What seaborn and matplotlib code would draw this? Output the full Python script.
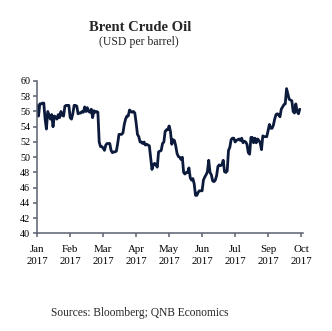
import numpy as np
import pandas as pd
import matplotlib
matplotlib.use("Agg")
import matplotlib.pyplot as plt
import seaborn as sns

# Brent price, USD per barrel (trading-day series)
prices = [
    56.8, 55.4, 57.0, 57.0, 57.1, 57.1, 55.0, 53.7, 56.0, 55.5,
    55.0, 55.6, 54.0, 55.4, 55.3, 55.0, 55.6, 55.2, 56.0, 55.5,
    55.4, 56.7, 56.8, 56.8, 56.8, 55.2, 55.0, 55.7, 56.8, 56.8,
    56.7, 55.7, 55.8, 55.8, 56.0, 55.9, 56.6, 56.0, 56.5, 56.0,
    55.9, 56.3, 55.2, 56.1, 55.9, 56.0, 55.9, 52.0, 51.4, 51.4,
    51.2, 50.9, 51.6, 51.8, 51.8, 51.8, 50.9, 50.6, 50.7, 50.7,
    50.8, 51.8, 53.0, 53.0, 53.0, 53.2, 54.3, 55.0, 55.4, 55.4,
    56.2, 56.0, 55.9, 56.0, 55.8, 54.5, 53.0, 52.7, 52.0, 52.0,
    51.8, 52.0, 51.6, 51.7, 51.6, 51.5, 50.0, 48.4, 49.0, 49.2,
    49.0, 48.7, 50.7, 50.8, 50.9, 51.8, 52.0, 53.4, 53.6, 53.6,
    54.1, 53.4, 51.7, 52.3, 52.2, 51.5, 50.5, 50.1, 50.0, 49.7,
    50.0, 48.0, 47.8, 48.0, 48.0, 48.6, 47.3, 47.0, 47.2, 46.5,
    45.0, 45.0, 45.4, 45.6, 45.6, 45.6, 47.0, 47.4, 47.7, 48.1,
    49.6, 48.0, 47.7, 46.9, 46.8, 47.0, 47.6, 48.8, 49.0, 48.9,
    49.0, 49.6, 48.1, 48.0, 48.2, 50.9, 51.3, 52.3, 52.5, 52.5,
    52.0, 52.2, 52.3, 52.4, 52.2, 52.5, 51.9, 52.1, 52.0, 51.7,
    50.6, 50.4, 52.6, 52.6, 51.9, 52.5, 51.9, 52.4, 52.2, 51.9,
    51.0, 52.8, 52.7, 52.7, 52.7, 53.5, 54.3, 53.8, 53.8, 54.2,
    55.0, 55.6, 55.7, 55.6, 55.3, 56.3, 56.6, 56.9, 57.0, 59.0,
    58.3, 57.6, 57.5, 57.4, 56.0, 55.8, 57.0, 56.0, 55.7, 56.3,
]
tick_labels = ["Jan\n2017", "Feb\n2017", "Mar\n2017", "Apr\n2017", "May\n2017",
               "Jun\n2017", "Jul\n2017", "Sep\n2017", "Oct\n2017"]
y_ticks = [40, 42, 44, 46, 48, 50, 52, 54, 56, 58, 60]

df = pd.DataFrame({"day": np.arange(len(prices)), "price": prices})

sns.set_style("ticks")
plt.rcParams["font.family"] = ["Liberation Serif", "DejaVu Serif"]

fig = plt.figure(figsize=(3.32, 3.31), dpi=100)
ax = fig.add_axes([0.112, 0.2946, 0.802, 0.4607])

sns.lineplot(data=df, x="day", y="price", ax=ax, color="#0c1a3c", linewidth=2.0)

ax.set_xlim(0, 201.8)
ax.set_ylim(40, 60)
ax.set_yticks(y_ticks)
ax.set_yticklabels([str(v) for v in y_ticks], fontsize=7.3)
ax.set_xticks(np.arange(0, 201, 25))
ax.set_xticklabels(tick_labels, fontsize=7.8, linespacing=1.5)
ax.set_xlabel("")
ax.set_ylabel("")

for s in ["top", "right"]:
    ax.spines[s].set_visible(False)
for s in ["left", "bottom"]:
    ax.spines[s].set_color("#5a6270")
    ax.spines[s].set_linewidth(1.1)
ax.tick_params(axis="both", colors="#5a6270", labelcolor="black", length=3, width=1.1)
ax.tick_params(axis="y", pad=2)
ax.tick_params(axis="x", pad=5)

fig.text(0.422, 0.918, "Brent Crude Oil", ha="center", va="center",
         fontsize=10.5, fontweight="bold")
fig.text(0.418, 0.874, "(USD per barrel)", ha="center", va="center", fontsize=8.5)
fig.text(0.42, 0.055, "Sources: Bloomberg; QNB Economics", ha="center", va="center",
         fontsize=8.3)

fig.savefig("out.png", dpi=100)
